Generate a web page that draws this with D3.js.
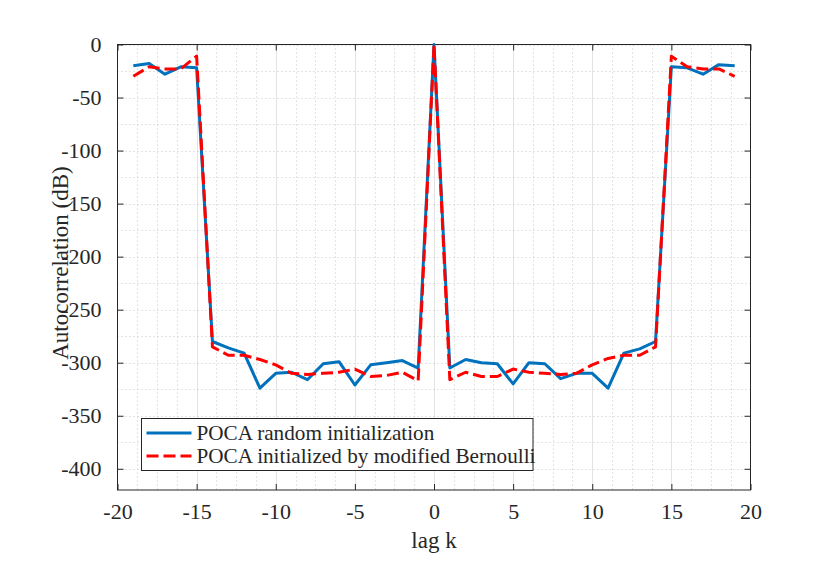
<!DOCTYPE html>
<html>
<head>
<meta charset="utf-8">
<script src="https://cdn.jsdelivr.net/npm/d3@7"></script>
<style>
body{margin:0;background:#fff}
svg text{font-family:"Liberation Serif",serif !important;fill:#262626}
</style>
</head>
<body>
<div id="chart"></div>
<script>
// lags and the two autocorrelation curves (dB)
let lags=d3.range(-19,20)
let pocaRandom=[-20,-18,-28,-21,-22,-280,-286,-291,-324,-310,-309,-316,-301,-299,-321,-302,-300,-298,-305,
    0,
    -305,-297,-300,-301,-320,-300,-301,-315,-310,-310,-324,-291,-287,-280,-21,-22,-28,-19,-20]
let pocaBernoulli=[-30,-21,-23,-23,-11,-285,-293,-293,-297,-302,-310,-311,-310,-309,-306,-313,-312,-309,-317,
    0,
    -316,-309,-313,-313,-306,-309,-310,-311,-310,-302,-296,-293,-293,-285,-11,-21,-23,-23,-30]
let xTicks=[-20,-15,-10,-5,0,5,10,15,20]
let yTicks=[0,-50,-100,-150,-200,-250,-300,-350,-400]
let seriesNames=["POCA random initialization","POCA initialized by modified Bernoulli"]

let width=830, height=581
let padLeft=117.5, padRight=750.5, padTop=44.5, padBottom=490
let axisColor="#262626"
let tickFont=22, titleFont=23, legendFont=21.2
let dash="12,5"

const svg=d3.select("#chart").append("svg").attr("width",width).attr("height",height)

let xScale=d3.scaleLinear().domain([-20,20]).range([padLeft,padRight])
let yScale=d3.scaleLinear().domain([-420,0]).range([padBottom,padTop])

//grid: minor dotted every 1.25 in x, every 25 in y, major solid in x
let xMinor=d3.range(-20,20.01,1.25).filter(v=>v%5!=0)
let yMinor=d3.range(-400,0.01,25)
let grid=svg.append("g")
grid.selectAll(".xminor").data(xMinor).enter().append("line")
    .attr("x1",d=>Math.round(xScale(d))+0.5).attr("x2",d=>Math.round(xScale(d))+0.5)
    .attr("y1",padTop).attr("y2",padBottom)
    .attr("stroke","#c8c8c8").attr("stroke-width",1).attr("stroke-dasharray","1,3")
grid.selectAll(".xmajor").data(xTicks.slice(1,-1)).enter().append("line")
    .attr("x1",d=>Math.round(xScale(d))+0.5).attr("x2",d=>Math.round(xScale(d))+0.5)
    .attr("y1",padTop).attr("y2",padBottom)
    .attr("stroke","#e3e3e3").attr("stroke-width",1)
grid.selectAll(".yminor").data(yMinor).enter().append("line")
    .attr("x1",padLeft).attr("x2",padRight)
    .attr("y1",d=>Math.round(yScale(d))+0.5).attr("y2",d=>Math.round(yScale(d))+0.5)
    .attr("stroke","#c8c8c8").attr("stroke-width",1).attr("stroke-dasharray","1,3")

//axis box
svg.append("rect").attr("x",padLeft).attr("y",padTop).attr("width",padRight-padLeft).attr("height",padBottom-padTop)
    .attr("fill","none").attr("stroke",axisColor).attr("stroke-width",1)

//axes with inward ticks, plain hyphen as minus sign like the original
let fmt=d=>String(d)
let xAxisB=svg.append("g").attr("transform",`translate(0,${padBottom})`)
    .call(d3.axisBottom(xScale).tickValues(xTicks).tickSizeInner(-6).tickSizeOuter(0).tickPadding(13).tickFormat(fmt))
let xAxisT=svg.append("g").attr("transform",`translate(0,${padTop})`)
    .call(d3.axisTop(xScale).tickValues(xTicks).tickSizeInner(-6).tickSizeOuter(0).tickFormat(""))
let yAxisL=svg.append("g").attr("transform",`translate(${padLeft},0)`)
    .call(d3.axisLeft(yScale).tickValues(yTicks).tickSizeInner(-6).tickSizeOuter(0).tickPadding(16).tickFormat(fmt))
let yAxisR=svg.append("g").attr("transform",`translate(${padRight},0)`)
    .call(d3.axisRight(yScale).tickValues(yTicks).tickSizeInner(-6).tickSizeOuter(0).tickFormat(""))
;[xAxisB,xAxisT,yAxisL,yAxisR].forEach(a=>{
    a.attr("font-family",null)
    a.select(".domain").remove()
    a.selectAll("line").attr("stroke",axisColor)
    a.selectAll("text").attr("font-size",tickFont).attr("fill",axisColor)
})

//axis titles
svg.append("text").attr("x",(padLeft+padRight)/2).attr("y",548).attr("text-anchor","middle")
    .attr("font-size",titleFont).text("lag k")
svg.append("text").attr("transform",`translate(68,263) rotate(-90)`).attr("text-anchor","middle")
    .attr("font-size",titleFont).text("Autocorrelation (dB)")

//curves
let line=d3.line().x((d,i)=>xScale(lags[i])).y(d=>yScale(d))
let plot=svg.append("g")
plot.append("path").datum(pocaRandom).attr("d",line).attr("fill","none")
    .attr("stroke","#0072BD").attr("stroke-width",3).attr("stroke-linejoin","round")
plot.append("path").datum(pocaBernoulli).attr("d",line).attr("fill","none")
    .attr("stroke","#FF0000").attr("stroke-width",3).attr("stroke-dasharray",dash).attr("stroke-linejoin","round")

//legend
let legend=svg.append("g").attr("transform","translate(141.5,418.5)")
legend.append("rect").attr("width",391.5).attr("height",52).attr("fill","#fff").attr("stroke",axisColor).attr("stroke-width",1)
let legendColors=["#0072BD","#FF0000"]
let legendDash=[null,dash]
seriesNames.forEach((name,i)=>{
    let y=14.5+i*23
    legend.append("line").attr("x1",5).attr("x2",50).attr("y1",y).attr("y2",y)
        .attr("stroke",legendColors[i]).attr("stroke-width",3).attr("stroke-dasharray",legendDash[i])
    legend.append("text").attr("x",55).attr("y",y+7).attr("font-size",legendFont).text(name)
})
</script>
</body>
</html>
